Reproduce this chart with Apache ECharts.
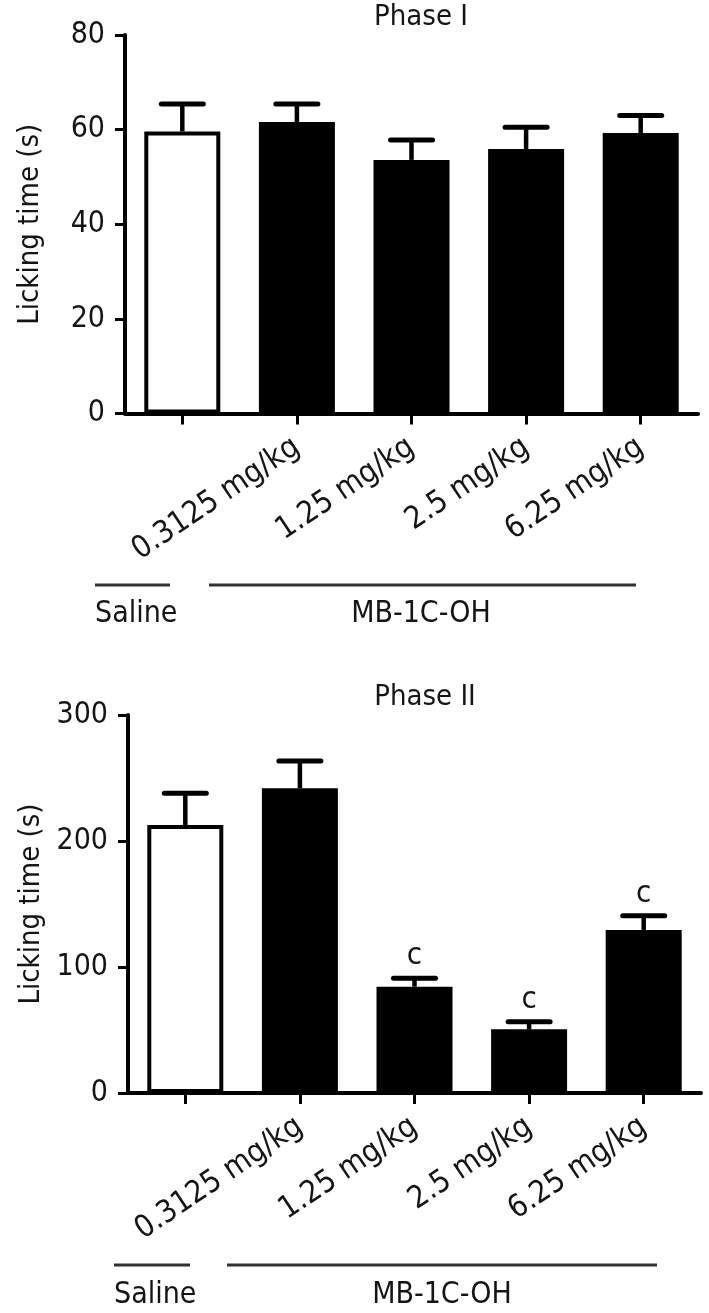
<!DOCTYPE html>
<html><head><meta charset="utf-8">
<script src="https://cdn.jsdelivr.net/npm/echarts@6/dist/echarts.min.js"></script>
<style>html,body{margin:0;padding:0;background:#fff;} #c{width:709px;height:1313px;}</style>
</head><body><div id="c"></div>
<script>
// ---- data ----
const categories = ['Saline', '0.3125 mg/kg', '1.25 mg/kg', '2.5 mg/kg', '6.25 mg/kg'];
const tickLabels = ['', '0.3125 mg/kg', '1.25 mg/kg', '2.5 mg/kg', '6.25 mg/kg'];
const phase1Mean  = [59.6, 61.6, 53.6, 55.9, 59.3];
const phase1Upper = [65.4, 65.4, 57.8, 60.5, 63.0];
const phase2Mean  = [212.7, 241.8, 84.4, 50.5, 129.4];
const phase2Upper = [237.9, 263.5, 91.0, 56.6, 140.7];
const phase1Marks = ['', '', '', '', ''];
const phase2Marks = ['', '', 'c', 'c', 'c'];
const phase1Axis = {min: 0, max: 80, interval: 20};
const phase2Axis = {min: 0, max: 300, interval: 100};
const titles = ['Phase I', 'Phase II'];
const groupNames = ['Saline', 'MB-1C-OH'];
const yTitle = 'Licking time (s)';

// ---- chart ----
const FONT = '"DejaVu Sans Condensed", "Liberation Sans", Arial, sans-serif';
const TXT = '#151515';

function barData(means) {
  return means.map((v, i) => ({
    value: v,
    itemStyle: i === 0
      ? {color: '#ffffff', borderColor: '#000', borderWidth: 4}
      : {color: '#000000', borderColor: '#000', borderWidth: 4}
  }));
}
function errData(means, uppers, marks) {
  return means.map((v, i) => [i, v, uppers[i], marks[i]]);
}
function renderErr(params, api) {
  const x = api.value(0), lo = api.value(1), hi = api.value(2);
  const pLo = api.coord([x, lo]);
  const pHi = api.coord([x, hi]);
  const hw = 21;
  return {type: 'group', children: [
    {type: 'line', shape: {x1: pLo[0], y1: pLo[1], x2: pHi[0], y2: pHi[1]}, style: {stroke: '#000', lineWidth: 4.5}},
    {type: 'line', shape: {x1: pHi[0] - hw, y1: pHi[1], x2: pHi[0] + hw, y2: pHi[1]}, style: {stroke: '#000', lineWidth: 5, lineCap: 'round'}}
  ]};
}
function renderMark(params, api) {
  const x = api.value(0), hi = api.value(2);
  const mark = api.value(3);
  const pHi = api.coord([x, hi]);
  return {type: 'text', style: {text: mark, x: pHi[0], y: pHi[1] - 22, align: 'center', verticalAlign: 'middle',
    font: '31px ' + FONT, fill: TXT}};
}

function xAxisCfg(gi) {
  return {
    type: 'category', gridIndex: gi, data: categories,
    axisLine: {show: true, lineStyle: {color: '#000', width: 4}},
    axisTick: {show: true, alignWithLabel: true, length: 11, lineStyle: {color: '#000', width: 3}},
    axisLabel: {interval: 0, rotate: 34, margin: 31, fontSize: 31, fontFamily: FONT, color: TXT,
      formatter: (v, i) => tickLabels[i]},
    splitLine: {show: false}
  };
}
function yAxisCfg(gi, ax) {
  return {
    type: 'value', gridIndex: gi, min: ax.min, max: ax.max, interval: ax.interval,
    name: yTitle, nameLocation: 'middle', nameGap: 80,
    nameTextStyle: {fontSize: 29, fontFamily: FONT, color: TXT},
    axisLine: {show: true, lineStyle: {color: '#000', width: 4}},
    axisTick: {show: true, length: 10, lineStyle: {color: '#000', width: 3}},
    axisLabel: {fontSize: 30, fontFamily: FONT, color: TXT, margin: 20},
    splitLine: {show: false}
  };
}

const chart = echarts.init(document.getElementById('c'), null, {renderer: 'canvas'});
const option = {
  backgroundColor: '#ffffff',
  animation: false,
  grid: [
    {left: 125, top: 35, width: 573, height: 378.5},
    {left: 128, top: 715, width: 573, height: 378}
  ],
  xAxis: [xAxisCfg(0), xAxisCfg(1)],
  yAxis: [yAxisCfg(0, phase1Axis), yAxisCfg(1, phase2Axis)],
  series: [
    {type: 'bar', xAxisIndex: 0, yAxisIndex: 0, data: barData(phase1Mean), barWidth: 76, z: 2},
    {type: 'custom', xAxisIndex: 0, yAxisIndex: 0, data: errData(phase1Mean, phase1Upper, phase1Marks), renderItem: renderErr, z: 3},
    {type: 'bar', xAxisIndex: 1, yAxisIndex: 1, data: barData(phase2Mean), barWidth: 76, z: 2},
    {type: 'custom', xAxisIndex: 1, yAxisIndex: 1, data: errData(phase2Mean, phase2Upper, phase2Marks), renderItem: renderErr, z: 3},
    {type: 'custom', xAxisIndex: 1, yAxisIndex: 1, data: errData(phase2Mean, phase2Upper, phase2Marks), renderItem: renderMark, z: 4}
  ],
  graphic: [
    {type: 'text', style: {text: titles[0], x: 421, y: 17, align: 'center', verticalAlign: 'middle', font: '29px ' + FONT, fill: TXT}},
    {type: 'text', style: {text: titles[1], x: 425, y: 697, align: 'center', verticalAlign: 'middle', font: '29px ' + FONT, fill: TXT}},
    {type: 'line', shape: {x1: 95, y1: 585, x2: 170, y2: 585}, style: {stroke: '#333', lineWidth: 3}},
    {type: 'line', shape: {x1: 209, y1: 585, x2: 636, y2: 585}, style: {stroke: '#333', lineWidth: 3}},
    {type: 'text', style: {text: groupNames[0], x: 95, y: 614, align: 'left', verticalAlign: 'middle', font: '30px ' + FONT, fill: TXT}},
    {type: 'text', style: {text: groupNames[1], x: 421, y: 614, align: 'center', verticalAlign: 'middle', font: '30px ' + FONT, fill: TXT}},
    {type: 'line', shape: {x1: 114, y1: 1265, x2: 190, y2: 1265}, style: {stroke: '#333', lineWidth: 3}},
    {type: 'line', shape: {x1: 227, y1: 1265, x2: 657, y2: 1265}, style: {stroke: '#333', lineWidth: 3}},
    {type: 'text', style: {text: groupNames[0], x: 114, y: 1295, align: 'left', verticalAlign: 'middle', font: '30px ' + FONT, fill: TXT}},
    {type: 'text', style: {text: groupNames[1], x: 442, y: 1295, align: 'center', verticalAlign: 'middle', font: '30px ' + FONT, fill: TXT}}
  ]
};
chart.setOption(option);
</script>
</body></html>
